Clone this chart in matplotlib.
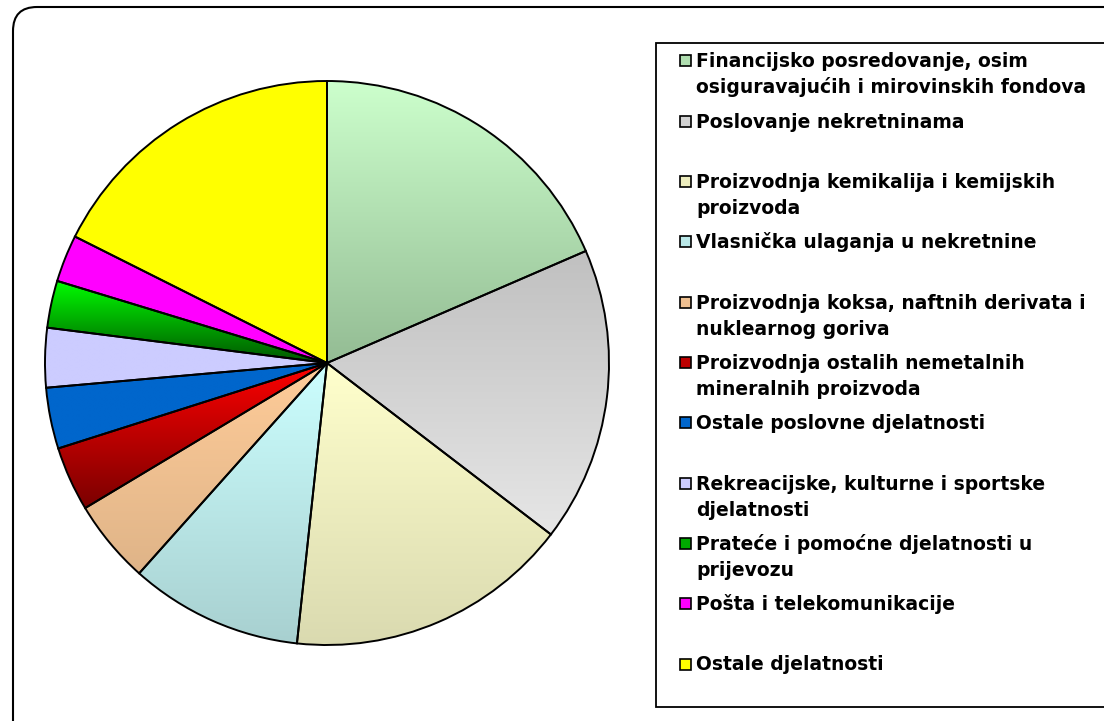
import numpy as np
import matplotlib
matplotlib.use("Agg")
import matplotlib.pyplot as plt
from matplotlib.colors import LinearSegmentedColormap, to_rgb
from matplotlib.patches import FancyBboxPatch, Rectangle

# udjeli po djelatnostima (%)
labels = [
    "Financijsko posredovanje, osim\nosiguravajućih i mirovinskih fondova",
    "Poslovanje nekretninama",
    "Proizvodnja kemikalija i kemijskih\nproizvoda",
    "Vlasnička ulaganja u nekretnine",
    "Proizvodnja koksa, naftnih derivata i\nnuklearnog goriva",
    "Proizvodnja ostalih nemetalnih\nmineralnih proizvoda",
    "Ostale poslovne djelatnosti",
    "Rekreacijske, kulturne i sportske\ndjelatnosti",
    "Prateće i pomoćne djelatnosti u\nprijevozu",
    "Pošta i telekomunikacije",
    "Ostale djelatnosti",
]
shares = [18.5, 16.9, 16.3, 9.9, 4.8, 3.7, 3.5, 3.4, 2.7, 2.7, 17.6]

# gradient boja: gore -> dolje
top_colors = ["#ccffcc", "#c0c0c0", "#ffffcc", "#ccffff", "#ffcc99", "#ff0000",
              "#0066cc", "#ccccff", "#00ff00", "#ff00ff", "#ffff00"]
bottom_colors = ["#94bc94", "#e6e6e6", "#dadab0", "#a8d0d0", "#dfb488", "#7a0000",
                 "#0066cc", "#ccccff", "#005500", "#ff00ff", "#ffff00"]

W, H = 1104, 721
fig = plt.figure(figsize=(W / 100, H / 100), dpi=100)

# pozadinske osi u pikselima (okvir + legenda)
bg = fig.add_axes([0, 0, 1, 1])
bg.set_xlim(0, W)
bg.set_ylim(H, 0)
bg.axis("off")

bg.add_patch(FancyBboxPatch((13, 7), 1130, 740, boxstyle="round,pad=0,rounding_size=24",
                            facecolor="white", edgecolor="black", linewidth=1.5))
bg.add_patch(Rectangle((656, 42.5), 480, 664.5, facecolor="white", edgecolor="black",
                       linewidth=1.3))

# pita
cx, cy, R = 327, 363, 282
pad = 1.05
ax = fig.add_axes([(cx - R * pad) / W, (H - cy - R * pad) / H, 2 * R * pad / W, 2 * R * pad / H])
ax.patch.set_alpha(0)
wedges, _ = ax.pie(shares, startangle=90, counterclock=False, colors=top_colors,
                   wedgeprops=dict(edgecolor="black", linewidth=1.4))

grad = np.linspace(0, 1, 256).reshape(-1, 1)
for w, c0, c1 in zip(wedges, top_colors, bottom_colors):
    w.set_facecolor("none")
    ext = w.get_path().get_extents()
    cmap = LinearSegmentedColormap.from_list("g", [to_rgb(c0), to_rgb(c1)])
    im = ax.imshow(grad, cmap=cmap, extent=(ext.x0, ext.x1, ext.y0, ext.y1),
                   aspect="auto", zorder=0.5, interpolation="bilinear")
    im.set_clip_path(w)

ax.set_xlim(-pad, pad)
ax.set_ylim(-pad, pad)
ax.set_aspect("equal")
ax.axis("off")

# legenda
y0, step, line_h = 60.7, 60.33, 26
for i, lab in enumerate(labels):
    y = y0 + i * step
    mid = tuple((np.array(to_rgb(top_colors[i])) + np.array(to_rgb(bottom_colors[i]))) / 2)
    bg.add_patch(Rectangle((679.5, y - 5.5), 11, 11, facecolor=mid, edgecolor="black",
                           linewidth=1.2))
    for j, line in enumerate(lab.split("\n")):
        bg.text(696, y + j * line_h + 6.5, line, fontsize=13.5, fontweight="bold",
                family="DejaVu Sans", va="baseline", ha="left")

fig.savefig("out.png", dpi=100)
